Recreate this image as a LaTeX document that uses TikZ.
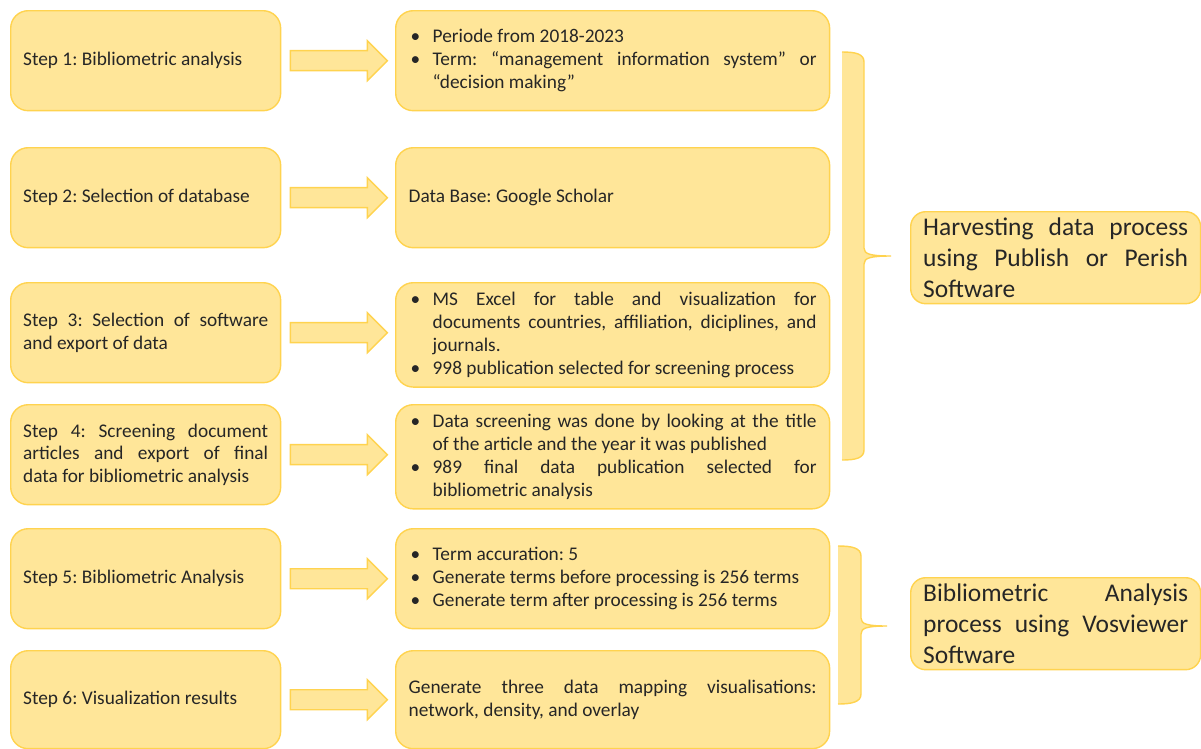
\documentclass[tikz,border=0pt]{standalone}
\usepackage{fontspec}
\setmainfont{Carlito}
\usetikzlibrary{calc}
\frenchspacing
\definecolor{boxfill}{HTML}{FFE699}
\definecolor{boxline}{HTML}{FFD34F}
\definecolor{txt}{HTML}{262626}
\newcommand{\bul}[1]{\par\noindent\makebox[0.48cm][l]{\hspace{0.04cm}\textbullet}%
    \parbox[t]{\dimexpr\linewidth-0.48cm\relax}{#1\par\xdef\bulpd{\the\prevdepth}}\par\prevdepth=\bulpd\relax}
\newcommand{\bulend}{\par\vspace{5.5pt}}

\begin{document}
\begin{tikzpicture}
        [x=0.02cm, y=-0.02cm,
        stepbox/.style={draw=boxline, fill=boxfill, line width=0.8pt, rounded corners=0.35cm,
            anchor=north west, minimum width=5.4cm, minimum height=2cm, text width=4.9cm,
            inner xsep=0.24cm, align=justify, text=txt, font=\fontsize{11}{13}\selectfont},
        infobox/.style={stepbox, minimum width=8.68cm, text width=8.16cm, inner xsep=0.26cm},
        bulletbox/.style={infobox, inner ysep=0pt, execute at end node=\bulend},
        labelbox/.style={stepbox, rounded corners=0.3cm, minimum width=5.8cm, minimum height=1.84cm,
            text width=5.3cm, font=\fontsize{14.5}{17.6}\selectfont},
        blockarrow/.style={draw=boxline, fill=boxfill, line width=0.8pt},
        brace/.style={draw=boxline, line width=0.8pt}]

        \useasboundingbox (0,0) rectangle (1201,748);

        % steps
        \node[stepbox] (s1) at (10,10) {Step 1: Bibliometric analysis};
        \node[stepbox] (s2) at (10,147) {Step 2: Selection of database};
        \node[stepbox] (s3) at (10,282) {Step 3: Selection of software\linebreak and export of data};
        \node[stepbox] (s4) at (10,404) {Step 4: Screening document\linebreak articles and export of final\linebreak data for bibliometric analysis};
        \node[stepbox] (s5) at (10,528) {Step 5: Bibliometric Analysis};
        \node[stepbox, minimum height=1.96cm] (s6) at (10,650) {Step 6: Visualization results};

        % details
        \node[bulletbox] (d1) at (395,10) {\bul{Periode from 2018-2023}\bul{Term: “management information system” or\linebreak “decision making”}};
        \node[infobox] (d2) at (395,147) {Data Base: Google Scholar};
        \node[bulletbox] (d3) at (395,282) {\bul{MS Excel for table and visualization for\linebreak documents countries, affiliation, diciplines, and\linebreak journals.}\bul{998 publication selected for screening process}};
        \node[bulletbox] (d4) at (395,404) {\bul{Data screening was done by looking at the title\linebreak of the article and the year it was published}\bul{989 final data publication selected for\linebreak bibliometric analysis}};
        \node[bulletbox] (d5) at (395,528) {\bul{Term accuration: 5}\bul{Generate terms before processing is 256 terms}\bul{Generate term after processing is 256 terms}};
        \node[infobox, minimum height=1.96cm] (d6) at (395,650) {Generate three data mapping visualisations:\linebreak network, density, and overlay};

        % block arrows
        \foreach \i in {1,...,6}
            \draw[blockarrow] ($(s\i.east)+(9,-10)$) -- ++(77,0) -- ++(0,-10) -- ++(20,20)
                -- ++(-20,20) -- ++(0,-10) -- ++(-77,0) -- cycle;

        % braces
        \fill[boxfill] (842,52) .. controls (856,52) and (864,54) .. (864,62) -- (864,248)
            .. controls (864,254) and (870,256) .. (891,256) .. controls (870,256) and (864,258) .. (864,264)
            -- (864,450) .. controls (864,458) and (856,460) .. (842,460) -- cycle;
        \draw[brace] (842,52) .. controls (856,52) and (864,54) .. (864,62) -- (864,248)
            .. controls (864,254) and (870,256) .. (891,256) .. controls (870,256) and (864,258) .. (864,264)
            -- (864,450) .. controls (864,458) and (856,460) .. (842,460);
        \fill[boxfill] (838,546) .. controls (852,546) and (861,548) .. (861,556) -- (861,618)
            .. controls (861,624) and (867,626) .. (887,626) .. controls (867,626) and (861,628) .. (861,634)
            -- (861,694) .. controls (861,702) and (852,704) .. (838,704) -- cycle;
        \draw[brace] (838,546) .. controls (852,546) and (861,548) .. (861,556) -- (861,618)
            .. controls (861,624) and (867,626) .. (887,626) .. controls (867,626) and (861,628) .. (861,634)
            -- (861,694) .. controls (861,702) and (852,704) .. (838,704);

        % group labels
        \node[labelbox] (harvest) at (910,211) {Harvesting data process\linebreak using Publish or Perish\linebreak Software};
        \node[labelbox] (vos) at (910,577) {Bibliometric Analysis\linebreak process using Vosviewer\linebreak Software};

    \end{tikzpicture}
\end{document}
